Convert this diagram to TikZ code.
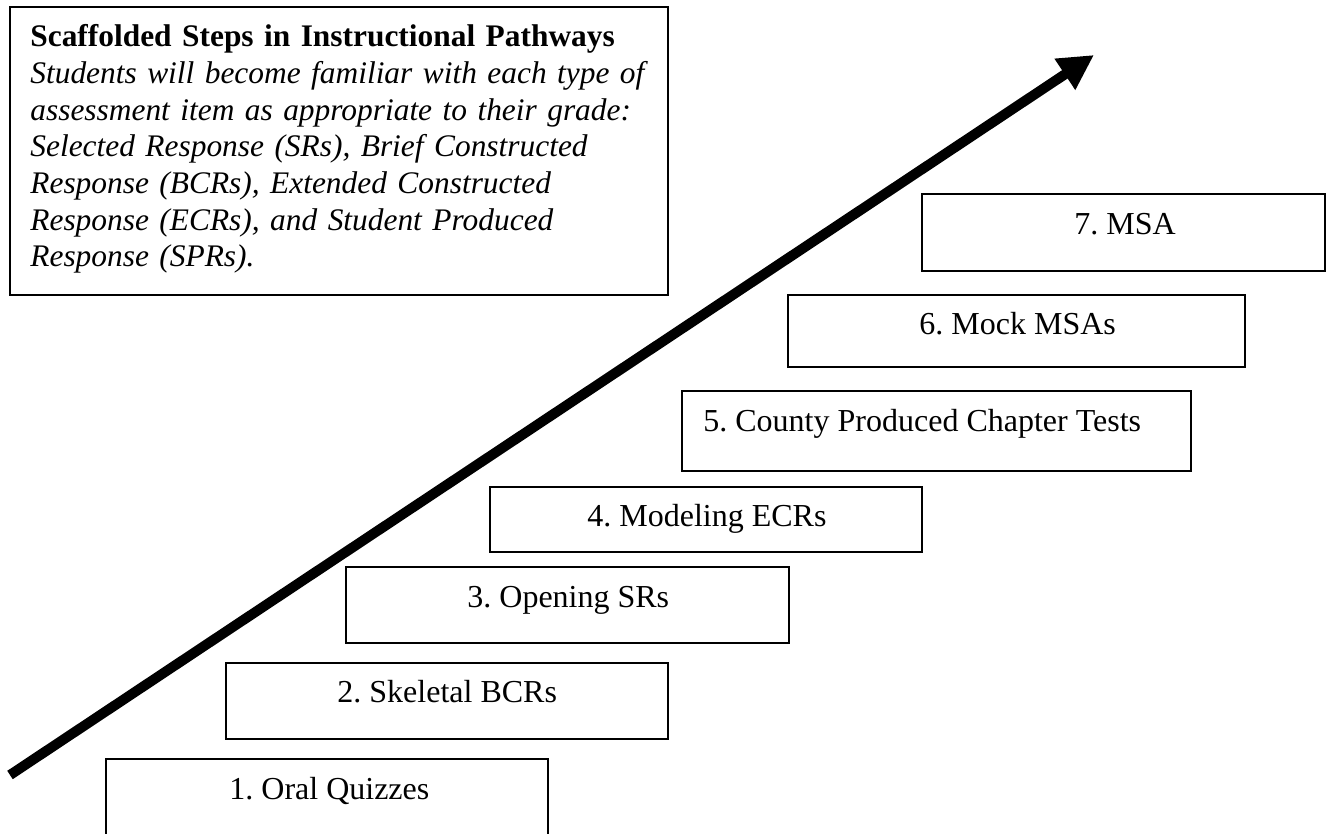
\documentclass[tikz,border=0pt]{standalone}
\usepackage{fontspec}
\setmainfont{Liberation Serif}
\usetikzlibrary{arrows.meta}
\frenchspacing
\tikzset{
  stepbox/.style={draw, line width=0.75pt, anchor=north west, inner sep=0pt, outer sep=0pt},
  steptext/.style={anchor=base west, inner sep=0pt, font=\frenchspacing\fontsize{16pt}{18.33pt}\selectfont},
  desctext/.style={anchor=base west, inner sep=0pt, text width=320pt, align=left,
    font=\frenchspacing\fontsize{15.7pt}{18.33pt}\selectfont},
  bigarrow/.style={line width=5pt, -{Triangle[length=17.5pt,width=17.5pt]}}
}
\begin{document}
\begin{tikzpicture}[x=0.5pt, y=-0.5pt]
\useasboundingbox (0,0) rectangle (1330,834);
\fill[white] (0,0) rectangle (1330,834);
\clip (0,0) rectangle (1330,834);

% description box
\node[stepbox, minimum width=329pt, minimum height=144pt] (descbox) at (10,7) {};
\node[desctext] (desc) at (30,47)
  {\textbf{Scaffolded Steps in Instructional Pathways}\\
   \textit{Students will become familiar with each type of}\\
   \textit{assessment item as appropriate to their grade:}\\
   \textit{Selected Response (SRs), Brief Constructed}\\
   \textit{Response (BCRs), Extended Constructed}\\
   \textit{Response (ECRs), and Student Produced}\\
   \textit{Response (SPRs).}};

% step boxes
\node[stepbox, minimum width=221pt,   minimum height=70pt]   (b1) at (106,759) {};
\node[stepbox, minimum width=221pt,   minimum height=38pt]   (b2) at (226,663) {};
\node[stepbox, minimum width=221.5pt, minimum height=38pt]   (b3) at (346,567) {};
\node[stepbox, minimum width=216pt,   minimum height=32.5pt] (b4) at (490,487) {};
\node[stepbox, minimum width=254.5pt, minimum height=40pt]   (b5) at (682,391) {};
\node[stepbox, minimum width=228.5pt, minimum height=36pt]   (b6) at (788,295) {};
\node[stepbox, minimum width=201.5pt, minimum height=38.5pt] (b7) at (922,194) {};

\node[steptext] (t1) at (229,799)  {1. Oral Quizzes};
\node[steptext] (t2) at (337,703)  {2. Skeletal BCRs};
\node[steptext] (t3) at (467,608)  {3. Opening SRs};
\node[steptext] (t4) at (587,527)  {4. Modeling ECRs};
\node[steptext] (t5) at (703,432)  {5. County Produced Chapter Tests};
\node[steptext] (t6) at (919,335)  {6. Mock MSAs};
\node[steptext] (t7) at (1074,235) {7. MSA};

% big arrow
\coordinate (tail) at (10,775);
\coordinate (tip) at (1094,55);
\draw[bigarrow] (tail) -- (tip);
\end{tikzpicture}
\end{document}
